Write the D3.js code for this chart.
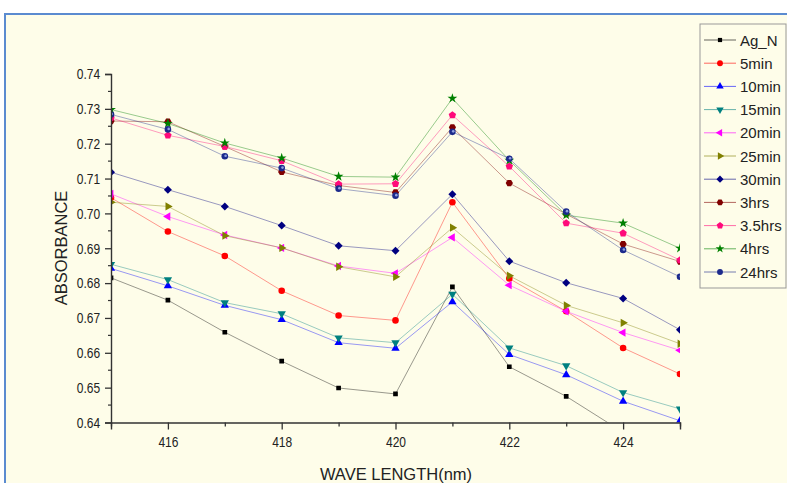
<!DOCTYPE html>
<html>
<head>
<meta charset="utf-8">
<script src="https://cdn.jsdelivr.net/npm/d3@7"></script>
<style>
  body { margin: 0; background: #ffffff; }
  svg { display: block; }
  .tick text { font-family: "Liberation Sans", Arial, sans-serif; }
</style>
</head>
<body>
<script>
// wavelengths (nm)
var wavelengths = [415, 416, 417, 418, 419, 420, 421, 422, 423, 424, 425];

var seriesNames = ["Ag_N", "5min", "10min", "15min", "20min", "25min", "30min", "3hrs", "3.5hrs", "4hrs", "24hrs"];

var agN     = [0.6815, 0.6751, 0.6659, 0.6576, 0.6499, 0.6482, 0.6789, 0.6560, 0.6475, 0.6372, 0.6290];
var min5    = [0.7045, 0.6948, 0.6878, 0.6778, 0.6707, 0.6693, 0.7032, 0.6813, 0.6719, 0.6614, 0.6539];
var min10   = [0.6842, 0.6792, 0.6736, 0.6695, 0.6629, 0.6613, 0.6746, 0.6595, 0.6537, 0.6461, 0.6405];
var min15   = [0.6854, 0.6810, 0.6744, 0.6712, 0.6643, 0.6629, 0.6768, 0.6614, 0.6563, 0.6486, 0.6439];
var min20   = [0.7056, 0.6991, 0.6938, 0.6901, 0.6849, 0.6828, 0.6931, 0.6794, 0.6719, 0.6658, 0.6607];
var min25   = [0.7032, 0.7020, 0.6936, 0.6901, 0.6847, 0.6818, 0.6959, 0.6821, 0.6736, 0.6686, 0.6626];
var min30   = [0.7118, 0.7068, 0.7020, 0.6965, 0.6907, 0.6893, 0.7055, 0.6863, 0.6801, 0.6756, 0.6666];
var hrs3    = [0.7265, 0.7263, 0.7192, 0.7119, 0.7080, 0.7060, 0.7247, 0.7087, 0.6998, 0.6912, 0.6862];
var hrs3_5  = [0.7274, 0.7224, 0.7192, 0.7151, 0.7084, 0.7085, 0.7282, 0.7135, 0.6972, 0.6943, 0.6866];
var hrs4    = [0.7298, 0.7258, 0.7202, 0.7159, 0.7106, 0.7104, 0.7330, 0.7152, 0.6995, 0.6972, 0.6900];
var hrs24   = [0.7284, 0.7241, 0.7164, 0.7130, 0.7071, 0.7051, 0.7234, 0.7157, 0.7005, 0.6895, 0.6818];

var seriesValues = [agN, min5, min10, min15, min20, min25, min30, hrs3, hrs3_5, hrs4, hrs24];

var colors = ["#000000", "#ff0000", "#0000ff", "#008080", "#ff00ff", "#808000", "#000080", "#800000", "#ff0a7a", "#008000", "#1c2a8c"];

var xTicks = [415, 416, 417, 418, 419, 420, 421, 422, 423, 424, 425];
var yTicks = [0.64, 0.65, 0.66, 0.67, 0.68, 0.69, 0.70, 0.71, 0.72, 0.73, 0.74];

var width = 787, height = 483;

// regular polygon marker, rot in degrees
function polygon(n, rot) {
  return {
    draw: function(ctx, size) {
      var r = Math.sqrt(size / (n * Math.sin(2 * Math.PI / n) / 2));
      for (var i = 0; i < n; i++) {
        var a = (rot + i * 360 / n) * Math.PI / 180;
        if (i === 0) ctx.moveTo(r * Math.cos(a), r * Math.sin(a));
        else ctx.lineTo(r * Math.cos(a), r * Math.sin(a));
      }
      ctx.closePath();
    }
  };
}

var symbols = [
  {type: d3.symbolSquare, size: 22},
  {type: d3.symbolCircle, size: 34},
  {type: polygon(3, -90), size: 30},
  {type: polygon(3, 90), size: 30},
  {type: polygon(3, 180), size: 30},
  {type: polygon(3, 0), size: 30},
  {type: polygon(4, 0), size: 32},
  {type: polygon(6, 0), size: 34},
  {type: polygon(5, -90), size: 36},
  {type: d3.symbolStar, size: 30},
  {type: d3.symbolCircle, size: 34}
];

var svg = d3.select("body").append("svg")
  .attr("width", width)
  .attr("height", height);

// outer frame
svg.append("rect")
  .attr("x", 5).attr("y", 14)
  .attr("width", 800).attr("height", 500)
  .attr("fill", "#fefde9")
  .attr("stroke", "#5b8bd0")
  .attr("stroke-width", 2);

var x = d3.scaleLinear().domain([415, 425]).range([111, 680]);
var y = d3.scaleLinear().domain([0.64, 0.74]).range([422.5, 74]);

svg.append("clipPath").attr("id", "plotclip")
  .append("rect")
  .attr("x", 111).attr("y", 20)
  .attr("width", 569).attr("height", 402.5);

var plot = svg.append("g").attr("clip-path", "url(#plotclip)");

var line = d3.line()
  .x(function(d, i) { return x(wavelengths[i]); })
  .y(function(d) { return y(d); });

seriesValues.forEach(function(vals, k) {
  plot.append("path")
    .datum(vals)
    .attr("d", line)
    .attr("fill", "none")
    .attr("stroke", colors[k])
    .attr("stroke-opacity", 0.4)
    .attr("stroke-width", 1);
});

seriesValues.forEach(function(vals, k) {
  var sym = d3.symbol().type(symbols[k].type).size(symbols[k].size);
  plot.selectAll(null)
    .data(vals)
    .enter()
    .append("path")
    .attr("transform", function(d, i) { return "translate(" + x(wavelengths[i]) + "," + y(d) + ")"; })
    .attr("d", sym)
    .attr("fill", colors[k]);
  if (k === 10) {
    plot.selectAll(null)
      .data(vals)
      .enter()
      .append("circle")
      .attr("cx", function(d, i) { return x(wavelengths[i]) + 0.8; })
      .attr("cy", function(d) { return y(d) - 0.5; })
      .attr("r", 1.3)
      .attr("fill", "#8fa0e0");
  }
});

// axes
var xAxis = d3.axisBottom(x)
  .tickValues(xTicks)
  .tickSize(7)
  .tickFormat(function(d) { return d % 2 === 0 ? d : ""; });

var gx = svg.append("g")
  .attr("transform", "translate(0,422.5)")
  .call(xAxis);
gx.select(".domain").attr("stroke", "#333").attr("stroke-width", 1.4);
gx.selectAll(".tick line").attr("stroke", "#333").attr("stroke-width", 1.3)
  .attr("y2", function(d) { return d % 2 === 0 ? 7 : 4; });
gx.selectAll(".tick text")
  .attr("font-size", 15).attr("fill", "#222")
  .attr("dy", "0.95em").attr("y", 10)
  .attr("transform", "scale(0.8,1)");

var yMinor = d3.range(0, 21).map(function(i) { return 0.64 + i * 0.005; });

var yAxis = d3.axisLeft(y)
  .tickValues(yTicks)
  .tickSize(6)
  .tickFormat(d3.format(".2f"));

var gy = svg.append("g")
  .attr("transform", "translate(111,0)")
  .call(yAxis);
gy.select(".domain").attr("stroke", "#333").attr("stroke-width", 1.4);
gy.selectAll(".tick line").attr("stroke", "#333").attr("stroke-width", 1.3);
gy.selectAll(".tick text")
  .attr("font-size", 15).attr("fill", "#222")
  .attr("x", -13.5)
  .attr("transform", "scale(0.8,1)");

svg.append("g")
  .selectAll("line")
  .data(yMinor.filter(function(d, i) { return i % 2 === 1; }))
  .enter()
  .append("line")
  .attr("x1", 108).attr("x2", 111)
  .attr("y1", function(d) { return y(d); })
  .attr("y2", function(d) { return y(d); })
  .attr("stroke", "#333").attr("stroke-width", 1.2);

// axis titles
svg.append("text")
  .attr("x", 396).attr("y", 480)
  .attr("text-anchor", "middle")
  .attr("font-family", "Liberation Sans, Arial, sans-serif")
  .attr("font-size", 16.5)
  .attr("fill", "#222")
  .text("WAVE LENGTH(nm)");

svg.append("text")
  .attr("transform", "translate(67,248) rotate(-90)")
  .attr("text-anchor", "middle")
  .attr("font-family", "Liberation Sans, Arial, sans-serif")
  .attr("font-size", 16.5)
  .attr("fill", "#222")
  .text("ABSORBANCE");

// legend
var legend = svg.append("g");
legend.append("rect")
  .attr("x", 700).attr("y", 24)
  .attr("width", 86).attr("height", 264)
  .attr("fill", "#fefde9")
  .attr("stroke", "#999")
  .attr("stroke-width", 1);

var item = legend.selectAll("g.item")
  .data(seriesNames)
  .enter()
  .append("g")
  .attr("class", "item")
  .attr("transform", function(d, i) { return "translate(0," + (40 + i * 23.2) + ")"; });

item.append("line")
  .attr("x1", 704).attr("x2", 736)
  .attr("stroke", function(d, i) { return colors[i]; })
  .attr("stroke-opacity", 0.6)
  .attr("stroke-width", 1);

item.append("path")
  .attr("transform", "translate(720,0)")
  .attr("d", function(d, i) { return d3.symbol().type(symbols[i].type).size(symbols[i].size * 0.8)(); })
  .attr("fill", function(d, i) { return colors[i]; });

item.append("text")
  .attr("x", 740).attr("y", 5.5)
  .attr("font-family", "Liberation Sans, Arial, sans-serif")
  .attr("font-size", 15)
  .attr("fill", "#222")
  .text(function(d) { return d; });
</script>
</body>
</html>
